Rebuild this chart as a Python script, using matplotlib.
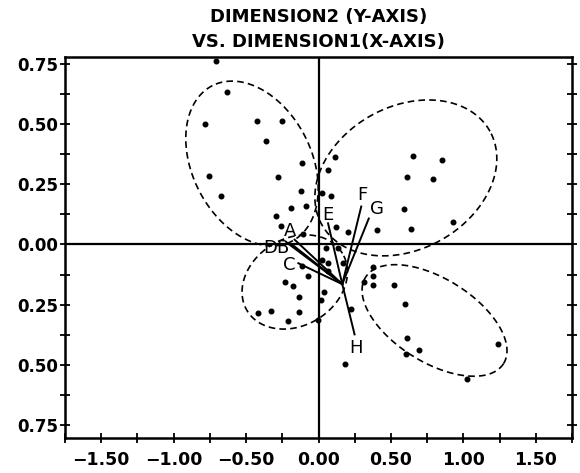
import numpy as np
import matplotlib
matplotlib.use("Agg")
import matplotlib.pyplot as plt
from matplotlib.ticker import MultipleLocator, FuncFormatter

# ---------------- data ----------------
pts_x = [-0.705, -0.635, -0.786, -0.422, -0.251, -0.365, -0.112, -0.755, -0.279, -0.673,
         -0.121, 0.027, -0.084, -0.192, -0.292, -0.260, -0.104,
         0.112, 0.066, 0.649, 0.856, 0.614, 0.793, 0.084, 0.591, 0.930, 0.404, 0.639, 0.203, 0.119,
         0.055, 0.135, 0.021, 0.066, 0.169, 0.066, -0.116, -0.071, -0.231, -0.173, 0.039, -0.132,
         0.016, 0.221, -0.418, -0.327, -0.137, -0.208, -0.002,
         0.375, 0.375, 0.313, 0.375, 0.523, 0.596, 0.610, 0.694, 0.603, 1.238, 1.025, 0.180]
pts_y = [0.764, 0.633, 0.503, 0.515, 0.513, 0.430, 0.337, 0.286, 0.280, 0.202,
         0.222, 0.216, 0.161, 0.151, 0.118, 0.078, 0.044,
         0.365, 0.309, 0.367, 0.351, 0.282, 0.273, 0.200, 0.146, 0.095, 0.059, 0.064, 0.052, 0.071,
         -0.016, -0.013, -0.064, -0.078, -0.078, -0.110, -0.088, -0.129, -0.157, -0.172, -0.196, -0.219,
         -0.229, -0.268, -0.287, -0.277, -0.280, -0.320, -0.316,
         -0.092, -0.129, -0.155, -0.168, -0.169, -0.247, -0.388, -0.440, -0.456, -0.413, -0.561, -0.497]

# attribute vectors from a common origin
hub = (0.164, -0.165)
vec_names = ["A", "B", "C", "D", "E", "F", "G", "H"]
vec_tip_x = [-0.165, -0.185, -0.139, -0.219, 0.066, 0.295, 0.347, 0.249]
vec_tip_y = [0.020, 0.001, -0.078, 0.008, 0.088, 0.158, 0.108, -0.374]
lab_x = [-0.197, -0.247, -0.203, -0.336, 0.066, 0.306, 0.402, 0.260]
lab_y = [0.055, -0.013, -0.085, -0.013, 0.122, 0.205, 0.149, -0.432]

# cluster ellipses: centre (data), semi-axes (in x-units), screen angle (deg)
ell_cx = [-0.459, 0.603, -0.164, 0.801]
ell_cy = [0.337, 0.277, -0.156, -0.316]
ell_a = [0.603, 0.664, 0.384, 0.562]
ell_b = [0.411, 0.493, 0.301, 0.288]
ell_ang = [117, 29, 31, -32]

title1 = "DIMENSION2 (Y-AXIS)"
title2 = "VS. DIMENSION1(X-AXIS)"
xlim = (-1.75, 1.75)
ylim = (-0.805, 0.78)

# ---------------- figure ----------------
W, H = 5.8, 4.73
fig = plt.figure(figsize=(W, H), dpi=100)
ax_pos = [65 / 580, 1 - 438 / 473, 507 / 580, 381 / 473]
ax = fig.add_axes(ax_pos)
ax.set_xlim(*xlim)
ax.set_ylim(*ylim)

# axes cross
ax.axhline(0, color="black", lw=1.6, zorder=2)
ax.axvline(0, color="black", lw=1.6, zorder=2)

# points
ax.plot(pts_x, pts_y, "o", color="black", ms=3.3, zorder=4)

# ellipses (drawn so the angle is as seen on screen)
px_x = ax_pos[2] * W * 100 / (xlim[1] - xlim[0])
px_y = ax_pos[3] * H * 100 / (ylim[1] - ylim[0])
k = px_y / px_x
t = np.linspace(0, 2 * np.pi, 300)
for cx, cy, a, b, ang in zip(ell_cx, ell_cy, ell_a, ell_b, ell_ang):
    th = np.deg2rad(ang)
    u = a * np.cos(t)
    v = b * np.sin(t)
    xr = u * np.cos(th) - v * np.sin(th)
    yr = u * np.sin(th) + v * np.cos(th)
    ax.plot(cx + xr, cy + yr / k, color="black", lw=1.2, ls=(0, (4, 2.5)), zorder=3)

# vectors
for name, tx, ty, lx, ly in zip(vec_names, vec_tip_x, vec_tip_y, lab_x, lab_y):
    ax.plot([hub[0], tx], [hub[1], ty], color="black", lw=1.4, zorder=5)
    ax.text(lx, ly, name, fontsize=13, ha="center", va="center", color="black", zorder=6)

# ticks
ax.xaxis.set_major_locator(MultipleLocator(0.5))
ax.xaxis.set_minor_locator(MultipleLocator(0.25))
ax.yaxis.set_major_locator(MultipleLocator(0.25))
ax.yaxis.set_minor_locator(MultipleLocator(0.125))
ax.xaxis.set_major_formatter(FuncFormatter(lambda v, p: f"{v:.2f}".replace("-", "\u2212")))
ax.yaxis.set_major_formatter(FuncFormatter(lambda v, p: f"{abs(v):.2f}"))
ax.tick_params(axis="x", which="both", direction="inout", length=7, width=1.3,
               top=False, bottom=True, pad=6, labelsize=12.5)
ax.tick_params(axis="y", which="both", direction="inout", length=7, width=1.3,
               left=True, right=True, pad=1.5, labelsize=12)
for lab in ax.get_xticklabels() + ax.get_yticklabels():
    lab.set_fontweight("bold")
for s in ax.spines.values():
    s.set_linewidth(1.8)

cx_fig = ax_pos[0] + ax_pos[2] / 2
fig.text(cx_fig, 1 - 17 / 473, title1, ha="center", va="center", fontsize=13, fontweight="bold")
fig.text(cx_fig, 1 - 42 / 473, title2, ha="center", va="center", fontsize=13, fontweight="bold")

fig.savefig("out.png", dpi=100)
